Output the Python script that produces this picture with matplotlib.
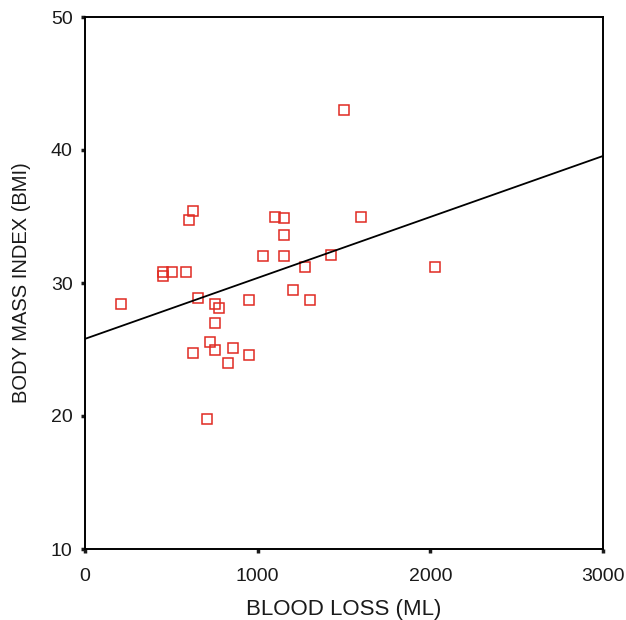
import matplotlib.pyplot as plt
import numpy as np

plt.rcParams['font.family'] = ['Liberation Sans', 'DejaVu Sans']

# blood loss (ml) vs BMI
blood_loss = [208, 452, 452, 504, 585, 602, 625, 625, 654, 706,
              724, 753, 753, 776, 753, 857, 828, 950, 950, 1031,
              1100, 1152, 1152, 1152, 1204, 1274, 1303, 1424, 1500, 1598,
              2027]
bmi = [28.4, 30.8, 30.5, 30.8, 30.8, 34.7, 35.4, 24.7, 28.9, 19.8,
       25.6, 28.4, 27.0, 28.1, 25.0, 25.1, 24.0, 28.7, 24.6, 32.0,
       35.0, 34.9, 33.6, 32.0, 29.5, 31.2, 28.7, 32.1, 43.0, 35.0,
       31.2]

# fitted line as drawn in the figure
line_x = [0, 3000]
line_y = [25.8, 39.55]

x_ticks = [0, 1000, 2000, 3000]
y_ticks = [10, 20, 30, 40, 50]

fig = plt.figure(figsize=(6.26, 6.20), dpi=100)
ax = fig.add_axes([85 / 626, 1 - 549 / 620, 518 / 626, 532 / 620])

ax.plot(blood_loss, bmi, linestyle='none', marker='s', markersize=6.5,
        markerfacecolor='none', markeredgecolor='#e02a22', markeredgewidth=1.1)
ax.plot(line_x, line_y, color='black', linewidth=1.3)

ax.set_xlim(0, 3000)
ax.set_ylim(10, 50)
ax.set_xticks(x_ticks)
ax.set_yticks(y_ticks)
ax.tick_params(direction='out', length=3, width=2.5, labelsize=14, colors='#1a1a1a')
ax.tick_params(axis='x', pad=11)
ax.tick_params(axis='y', pad=6)

for s in ax.spines.values():
    s.set_linewidth(1.4)

ax.set_xlabel('BLOOD LOSS (ML)', fontsize=16, labelpad=10, color='#1a1a1a')
ax.set_ylabel('BODY MASS INDEX (BMI)', fontsize=14.5, labelpad=14, color='#1a1a1a')

plt.savefig('out.png', dpi=100)
